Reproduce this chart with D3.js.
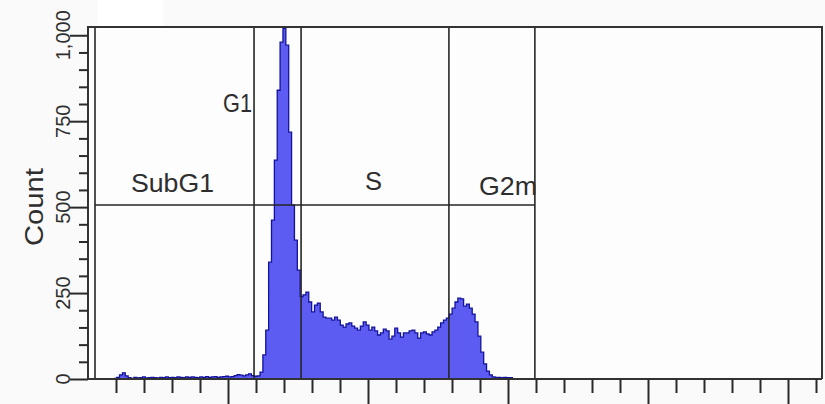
<!DOCTYPE html>
<html>
<head>
<meta charset="utf-8">
<script src="https://cdn.jsdelivr.net/npm/d3@7"></script>
<style>
  html, body { margin: 0; padding: 0; background: #fafafa; }
  svg { display: block; }
  text { font-family: "Liberation Sans", Arial, sans-serif; fill: #2e2e2e; }
</style>
</head>
<body>
<svg id="chart" width="825" height="404"></svg>
<script>
// DNA content histogram: 256 channels over a 0–262144 linear scale.
const channelMax = 262144;
const binWidth = 1024;
const firstBin = 9;
const counts = [
  2, 5, 12, 18, 9, 4, 2, 5, 3, 4, 6, 3, 4, 5, 4, 3, 5, 4, 6, 4, 5, 4, 6, 5, 4,
  6, 5, 6, 5, 4, 6, 5, 7, 5, 6, 7, 5, 6, 7, 8, 6, 7, 10, 13, 11, 9, 12, 15, 10, 8,
  9, 20, 70, 142, 340, 462, 637, 840, 980, 1020, 971, 718, 506, 404, 317, 240, 245, 253,
  224, 195, 215, 221, 195, 180, 177, 177, 171, 180, 171, 157, 151, 160, 163, 154, 148, 142, 154, 166,
  157, 142, 151, 140, 128, 134, 145, 140, 116, 125, 148, 134, 122, 134, 134, 140, 142, 134, 119, 134,
  137, 131, 128, 137, 142, 151, 163, 171, 177, 189,
  206, 224, 235, 233, 212, 218, 206, 189, 166, 125, 78, 44, 23, 12, 6, 5, 5, 4, 5, 4, 4
];

// Y axis
const countMax = 1024;
const yMajorTicks = [0, 250, 500, 750, 1000];
const yTickLabels = ["0", "250", "500", "750", "1,000"];
const yMinorStep = 50;
const yTitle = "Count";

// X axis ticks (unlabelled)
const xMajorTicks = [50000, 100000, 150000, 200000, 250000];
const xMinorStep = 10000;

// Gates: vertical boundaries and the horizontal marker level
const gateNames = ["SubG1", "G1", "S", "G2m"];
const gateBounds = [2500, 59300, 76100, 128900, 159600];
const gateLevel = 506;

const svg = d3.select("#chart");

const plot = { left: 88, right: 822, top: 27, bottom: 379 };

const x = d3.scaleLinear().domain([0, channelMax]).range([plot.left, plot.right]);
const y = d3.scaleLinear().domain([0, countMax]).range([plot.bottom, plot.top]);

// White patch above the plot, at the top-left
svg.append("rect")
  .attr("x", 98).attr("y", 0).attr("width", 65).attr("height", plot.top - 1)
  .attr("fill", "#ffffff");

// Plot area
svg.append("rect")
  .attr("x", plot.left).attr("y", plot.top)
  .attr("width", plot.right - plot.left).attr("height", plot.bottom - plot.top)
  .attr("fill", "#fdfdfd");

// Histogram points (step-after), closing to zero after the last channel
const pts = counts.map((c, i) => ({ ch: (firstBin + i) * binWidth, c }));
pts.push({ ch: (firstBin + counts.length) * binWidth, c: 0 });

svg.append("defs").append("clipPath").attr("id", "plotClip")
  .append("rect")
  .attr("x", plot.left).attr("y", plot.top)
  .attr("width", plot.right - plot.left).attr("height", plot.bottom - plot.top);

const histG = svg.append("g").attr("clip-path", "url(#plotClip)");

histG.append("path")
  .datum(pts)
  .attr("fill", "#5c5cf2")
  .attr("d", d3.area()
    .curve(d3.curveStepAfter)
    .x(d => x(d.ch))
    .y0(y(0))
    .y1(d => y(d.c)));

histG.append("path")
  .datum(pts)
  .attr("fill", "none")
  .attr("stroke", "#12129c")
  .attr("stroke-width", 1.3)
  .attr("d", d3.line()
    .curve(d3.curveStepAfter)
    .x(d => x(d.ch))
    .y(d => y(d.c)));

// Gate lines
const gateG = svg.append("g").attr("stroke", "#262626").attr("stroke-width", 1.6);
gateBounds.forEach(b => {
  gateG.append("line")
    .attr("x1", x(b)).attr("x2", x(b))
    .attr("y1", plot.top).attr("y2", plot.bottom);
});
gateG.append("line")
  .attr("x1", x(gateBounds[0])).attr("x2", x(gateBounds[gateBounds.length - 1]))
  .attr("y1", y(gateLevel)).attr("y2", y(gateLevel));

// Gate labels
const labelPos = [
  { x: 131, y: 192, len: 83 },
  { x: 223, y: 112, len: 29 },
  { x: 365, y: 190, len: 17 },
  { x: 479, y: 195, len: 58 }
];
gateNames.forEach((name, i) => {
  svg.append("text")
    .attr("x", labelPos[i].x).attr("y", labelPos[i].y)
    .attr("font-size", 26)
    .attr("textLength", labelPos[i].len)
    .attr("lengthAdjust", "spacingAndGlyphs")
    .text(name);
});

// Frame
const frame = svg.append("g").attr("stroke", "#333").attr("stroke-width", 2).attr("fill", "none");
frame.append("path")
  .attr("d", `M${plot.left},${plot.bottom}V${plot.top}H${plot.right}V${plot.bottom}`);

// Y axis: minor and major ticks
const yMinor = d3.range(yMinorStep, countMax, yMinorStep).filter(v => v % 250 !== 0);
const yAxisMinor = svg.append("g")
  .attr("transform", `translate(${plot.left},0)`)
  .call(d3.axisLeft(y).tickValues(yMinor).tickSize(9).tickFormat(""));
const yAxisMajor = svg.append("g")
  .attr("transform", `translate(${plot.left},0)`)
  .call(d3.axisLeft(y).tickValues(yMajorTicks).tickSize(18).tickFormat(""));
[yAxisMinor, yAxisMajor].forEach(g => {
  g.select(".domain").remove();
  g.selectAll(".tick line").attr("stroke", "#2a2a2a").attr("stroke-width", 2);
});

yMajorTicks.forEach((v, i) => {
  svg.append("text")
    .attr("transform", `translate(70,${y(v)}) rotate(-90)`)
    .attr("text-anchor", "middle")
    .attr("font-size", 20)
    .text(yTickLabels[i]);
});

svg.append("text")
  .attr("transform", `translate(43,${y(512) + 4}) rotate(-90)`)
  .attr("text-anchor", "middle")
  .attr("font-size", 26)
  .attr("textLength", 78)
  .attr("lengthAdjust", "spacingAndGlyphs")
  .text(yTitle);

// X axis baseline and ticks
svg.append("line")
  .attr("x1", plot.left).attr("x2", plot.right)
  .attr("y1", plot.bottom).attr("y2", plot.bottom)
  .attr("stroke", "#333").attr("stroke-width", 2);

const xMinor = d3.range(xMinorStep, channelMax, xMinorStep).filter(v => v % 50000 !== 0);
const xAxisMinor = svg.append("g")
  .attr("transform", `translate(0,${plot.bottom})`)
  .call(d3.axisBottom(x).tickValues(xMinor).tickSize(14).tickFormat(""));
const xAxisMajor = svg.append("g")
  .attr("transform", `translate(0,${plot.bottom})`)
  .call(d3.axisBottom(x).tickValues(xMajorTicks).tickSize(25).tickFormat(""));
[xAxisMinor, xAxisMajor].forEach(g => {
  g.select(".domain").remove();
  g.selectAll(".tick line").attr("stroke", "#2a2a2a").attr("stroke-width", 2);
});
</script>
</body>
</html>
